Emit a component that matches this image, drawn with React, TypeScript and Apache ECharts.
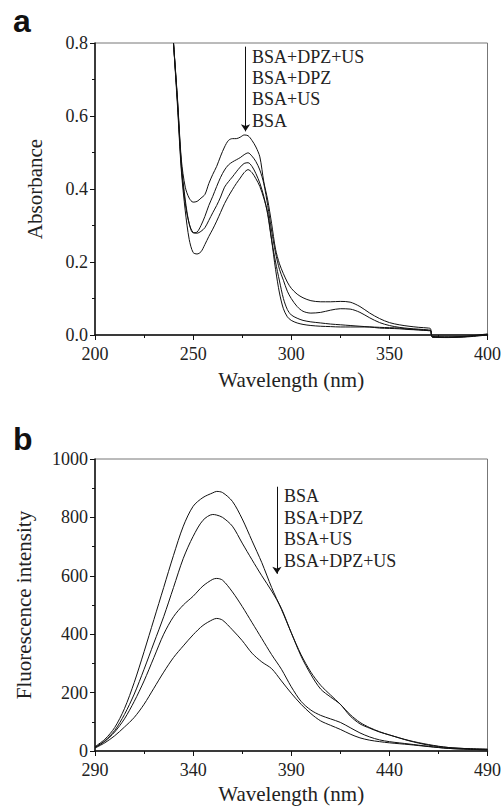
import React, { useEffect, useRef } from "react";
import * as echarts from "echarts";

// ---------- Panel a: UV-Vis absorbance ----------
const absWavelength = [
  240, 242, 244, 246, 248, 250, 252, 254, 256, 258, 260, 262, 264, 266, 268, 270, 272, 274, 276, 278,
  280, 282, 284, 286, 288, 290, 292, 294, 296, 298, 300, 303, 306, 310, 315, 320, 325, 330, 335, 340,
  345, 350, 355, 360, 365, 370, 371, 372, 380, 390, 400,
];
const absBsaDpzUs = [
  0.8, 0.65, 0.48, 0.405, 0.375, 0.364, 0.366, 0.375, 0.385, 0.415, 0.44, 0.462, 0.49, 0.515, 0.533, 0.538, 0.538, 0.542, 0.548, 0.546,
  0.533, 0.515, 0.488, 0.42, 0.37, 0.305, 0.235, 0.195, 0.168, 0.145, 0.128, 0.112, 0.102, 0.094, 0.091, 0.091, 0.092, 0.09, 0.078, 0.06,
  0.045, 0.034, 0.028, 0.024, 0.021, 0.019, 0.017, -0.004, -0.005, -0.003, 0.003,
];
const absBsaDpz = [
  0.8, 0.645, 0.47, 0.37, 0.305, 0.28, 0.282, 0.3, 0.325, 0.355, 0.38, 0.407, 0.432, 0.452, 0.466, 0.474, 0.48, 0.486, 0.494, 0.499,
  0.49, 0.475, 0.452, 0.415, 0.355, 0.285, 0.225, 0.18, 0.15, 0.12, 0.1, 0.078, 0.065, 0.06, 0.062, 0.068, 0.072, 0.071, 0.062, 0.047,
  0.034, 0.026, 0.021, 0.018, 0.016, 0.014, 0.013, -0.005, -0.006, -0.004, 0.002,
];
const absBsaUs = [
  0.8, 0.64, 0.46, 0.36, 0.305, 0.281, 0.279, 0.284, 0.294, 0.314, 0.335, 0.355, 0.378, 0.405, 0.42, 0.433, 0.447, 0.46, 0.47, 0.472,
  0.462, 0.442, 0.416, 0.38, 0.33, 0.26, 0.2, 0.148, 0.1, 0.07, 0.055, 0.046, 0.04, 0.036, 0.033, 0.03, 0.028, 0.026, 0.024, 0.022,
  0.019, 0.018, 0.017, 0.015, 0.014, 0.012, 0.012, -0.006, -0.006, -0.004, 0.001,
];
const absBsa = [
  0.8, 0.63, 0.45, 0.34, 0.262, 0.226, 0.222, 0.228, 0.248, 0.27, 0.29, 0.312, 0.336, 0.36, 0.38, 0.398, 0.415, 0.43, 0.445, 0.453,
  0.445, 0.428, 0.407, 0.375, 0.335, 0.26, 0.18, 0.115, 0.072, 0.05, 0.04, 0.033, 0.029, 0.026, 0.024, 0.023, 0.022, 0.022, 0.022, 0.022,
  0.021, 0.02, 0.019, 0.016, 0.014, 0.012, 0.012, -0.006, -0.007, -0.005, 0.0,
];
const absLabels = ["BSA+DPZ+US", "BSA+DPZ", "BSA+US", "BSA"];
const absArrow = { x: 276.7, from: 0.79, to: 0.558 };

// ---------- Panel b: fluorescence ----------
const flWavelength = [
  290, 295, 300, 305, 310, 315, 320, 325, 330, 335, 340, 345, 350, 352, 355, 360, 365, 370, 375, 380,
  385, 390, 395, 400, 405, 410, 415, 420, 425, 430, 435, 440, 450, 460, 470, 480, 490,
];
const flBsa = [
  15, 40, 80, 145, 235, 340, 450, 560, 670, 770, 838, 868, 884, 889, 885, 855, 795, 720, 645, 560,
  485, 405, 325, 262, 212, 185, 160, 120, 93, 78, 65, 55, 35, 20, 12, 8, 6,
];
const flBsaDpz = [
  12, 35, 70, 125, 195, 280, 370, 460, 560, 660, 735, 790, 810, 808, 800, 770, 712, 655, 600, 548,
  488, 405, 330, 270, 225, 192, 160, 125, 98, 80, 66, 55, 36, 22, 12, 8, 6,
];
const flBsaUs = [
  12, 33, 65, 110, 170, 240, 320, 400, 460, 500, 530, 565, 588, 591, 585, 545, 495, 440, 385, 330,
  280, 220, 170, 140, 122, 110, 98, 80, 62, 48, 38, 32, 24, 16, 9, 6, 4,
];
const flBsaDpzUs = [
  10, 28, 52, 82, 115, 160, 215, 270, 320, 360, 398, 430, 450, 454, 448, 415, 378, 335, 305, 282,
  240, 198, 160, 128, 103, 88, 74, 58, 45, 37, 32, 28, 22, 15, 9, 6, 4,
];
const flLabels = ["BSA", "BSA+DPZ", "BSA+US", "BSA+DPZ+US"];
const flArrow = { x: 382.7, from: 905, to: 607 };
const FL_X0 = 290; // x-axis origin of panel b (axis drawn as offset from 290 nm)

const SERIF = "Liberation Serif";
const SANS = "Liberation Sans";
const INK = "#111";

export default function App() {
  const ref = useRef<HTMLDivElement>(null);

  useEffect(() => {
    document.body.style.margin = "0";
    if (!ref.current) return;
    const chart = echarts.init(ref.current, undefined, { renderer: "svg" });

    const lineSeries = (
      name: string,
      xs: number[],
      ys: number[],
      axis: number,
      shift: number,
      extra: any = {}
    ) => ({
      type: "line",
      name,
      xAxisIndex: axis,
      yAxisIndex: axis,
      data: xs.map((x, i) => [x - shift, ys[i]]),
      showSymbol: false,
      smooth: 0.3,
      clip: false,
      silent: true,
      lineStyle: { color: INK, width: 1 },
      ...extra,
    });

    const arrowMark = (x: number, from: number, to: number) => ({
      markLine: {
        silent: true,
        symbol: ["none", "arrow"],
        symbolSize: 7,
        label: { show: false },
        lineStyle: { color: INK, width: 1, type: "solid" },
        data: [[{ coord: [x, from] }, { coord: [x, to] }]],
      },
    });

    const xAxisBase = (grid: number, min: number, max: number, fmt: (v: number) => string, gap: number) => ({
      gridIndex: grid,
      type: "value",
      min,
      max,
      interval: 50,
      axisLine: { show: true, onZero: false, lineStyle: { color: INK, width: 1.5 } },
      axisTick: { show: true, length: 5, lineStyle: { color: INK, width: 1 } },
      minorTick: { show: true, splitNumber: 2, length: 3, lineStyle: { color: INK, width: 1 } },
      splitLine: { show: false },
      axisLabel: { fontFamily: SERIF, fontSize: 18, color: "#222", margin: 10, formatter: fmt },
      name: "Wavelength (nm)",
      nameLocation: "middle",
      nameGap: gap,
      nameTextStyle: { fontFamily: SERIF, fontSize: 21, color: "#222" },
    });

    const yAxisBase = (grid: number, max: number, interval: number, fmt: (v: number) => string, name: string, gap: number) => ({
      gridIndex: grid,
      type: "value",
      min: 0,
      max,
      interval,
      axisLine: { show: true, onZero: false, lineStyle: { color: INK, width: 1.5 } },
      axisTick: { show: true, length: 5, lineStyle: { color: INK, width: 1 } },
      minorTick: { show: true, splitNumber: 2, length: 3, lineStyle: { color: INK, width: 1 } },
      splitLine: { show: false },
      axisLabel: { fontFamily: SERIF, fontSize: 18, color: "#222", margin: 7, formatter: fmt },
      name,
      nameLocation: "middle",
      nameGap: gap,
      nameTextStyle: { fontFamily: SERIF, fontSize: 21, color: "#222" },
    });

    const textLines = (labels: string[], x: number, y0: number, step: number) =>
      labels.map((t, i) => ({
        type: "text",
        x,
        y: y0 + i * step,
        silent: true,
        style: { text: t, fontFamily: SERIF, fontSize: 18, fill: "#222", verticalAlign: "middle", align: "left" },
      }));

    chart.setOption({
      animation: false,
      backgroundColor: "#fff",
      textStyle: { fontFamily: SERIF },
      grid: [
        { left: 95, top: 43, width: 393, height: 292, show: true, borderColor: "#777", borderWidth: 1 },
        { left: 95, top: 459, width: 395, height: 292, show: true, borderColor: "#777", borderWidth: 1 },
      ],
      xAxis: [
        xAxisBase(0, 200, 400, (v: number) => String(v), 34),
        xAxisBase(1, 0, 200, (v: number) => String(v + FL_X0), 32),
      ],
      yAxis: [
        yAxisBase(0, 0.8, 0.2, (v: number) => v.toFixed(1), "Absorbance", 50),
        yAxisBase(1, 1000, 200, (v: number) => String(v), "Fluorescence intensity", 61),
      ],
      series: [
        lineSeries(absLabels[0], absWavelength, absBsaDpzUs, 0, 0, arrowMark(absArrow.x, absArrow.from, absArrow.to)),
        lineSeries(absLabels[1], absWavelength, absBsaDpz, 0, 0),
        lineSeries(absLabels[2], absWavelength, absBsaUs, 0, 0),
        lineSeries(absLabels[3], absWavelength, absBsa, 0, 0),
        lineSeries(flLabels[0], flWavelength, flBsa, 1, FL_X0, arrowMark(flArrow.x - FL_X0, flArrow.from, flArrow.to)),
        lineSeries(flLabels[1], flWavelength, flBsaDpz, 1, FL_X0),
        lineSeries(flLabels[2], flWavelength, flBsaUs, 1, FL_X0),
        lineSeries(flLabels[3], flWavelength, flBsaDpzUs, 1, FL_X0),
      ],
      graphic: [
        {
          type: "text",
          x: 13,
          y: 21,
          silent: true,
          style: { text: "a", fontFamily: SANS, fontWeight: "bold", fontSize: 32, fill: "#111", verticalAlign: "middle" },
        },
        {
          type: "text",
          x: 13,
          y: 439,
          silent: true,
          style: { text: "b", fontFamily: SANS, fontWeight: "bold", fontSize: 32, fill: "#111", verticalAlign: "middle" },
        },
        ...textLines(absLabels, 252, 57, 21.2),
        ...textLines(flLabels, 284, 496, 21.6),
      ],
    });

    return () => chart.dispose();
  }, []);

  return <div ref={ref} style={{ width: 504, height: 808 }} />;
}
